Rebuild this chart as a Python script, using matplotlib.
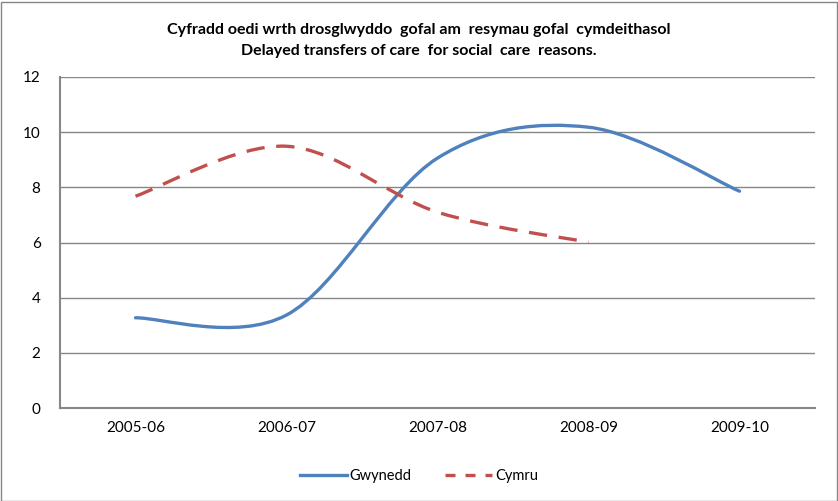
import matplotlib.pyplot as plt
from matplotlib.path import Path
from matplotlib.patches import PathPatch
from matplotlib.lines import Line2D
import numpy as np

plt.rcParams['font.family'] = ['Lato', 'DejaVu Sans']

years = ['2005-06', '2006-07', '2007-08', '2008-09', '2009-10']
gwynedd = [3.27, 3.37, 9.06, 10.18, 7.86]
cymru = [7.68, 9.49, 7.1, 6.01]

blue = '#4F81BD'
red = '#C0504D'


def smooth_path(vals):
    # Excel style smoothed line: cubic bezier through the points
    pts = np.column_stack([np.arange(len(vals)), vals]).astype(float)
    ext = np.vstack([pts[0], pts, pts[-1]])
    verts = [tuple(pts[0])]
    codes = [Path.MOVETO]
    for i in range(len(pts) - 1):
        p0, p1, p2, p3 = ext[i], ext[i + 1], ext[i + 2], ext[i + 3]
        c1 = p1 + (p2 - p0) / 6
        c2 = p2 - (p3 - p1) / 6
        verts += [tuple(c1), tuple(c2), tuple(p2)]
        codes += [Path.CURVE4] * 3
    return Path(verts, codes)


fig = plt.figure(figsize=(8.38, 5.01), dpi=100)
ax = fig.add_axes([60 / 838, 1 - 408 / 501, 755 / 838, 331 / 501])

ax.add_patch(PathPatch(smooth_path(gwynedd), facecolor='none', edgecolor=blue,
                       lw=2.4, capstyle='round', zorder=3))
ax.add_patch(PathPatch(smooth_path(cymru), facecolor='none', edgecolor=red,
                       lw=2.4, linestyle=(0, (5.5, 3.5)), zorder=3))

ax.set_xlim(-0.5, len(years) - 0.5)
ax.set_ylim(0, 12)
ax.set_yticks(range(0, 13, 2))
ax.set_xticks(range(len(years)))
ax.set_xticklabels(years)
ax.tick_params(length=0, labelsize=11, colors='black', pad=9)
ax.tick_params(axis='y', pad=14)
ax.grid(axis='y', color='#878787', lw=1)
ax.set_axisbelow(True)
for s in ['top', 'right']:
    ax.spines[s].set_visible(False)
for s in ['left', 'bottom']:
    ax.spines[s].set_color('#878787')
    ax.spines[s].set_linewidth(1.5)

fig.text(0.5, 1 - 30 / 501, 'Cyfradd oedi wrth drosglwyddo  gofal am  resymau gofal  cymdeithasol',
         ha='center', va='center', fontsize=11.5, fontweight='bold')
fig.text(0.5, 1 - 51 / 501, 'Delayed transfers of care  for social  care  reasons.',
         ha='center', va='center', fontsize=11.5, fontweight='bold')

handles = [Line2D([], [], color=blue, lw=2.4),
           Line2D([], [], color=red, lw=2.4, linestyle=(0, (3, 3)))]
fig.legend(handles, ['Gwynedd', 'Cymru'], loc='center', bbox_to_anchor=(0.5, 1 - 476 / 501),
           ncol=2, frameon=False, fontsize=10.5, handlelength=3.2, columnspacing=2.3,
           handletextpad=0.2)

fig.patches.append(plt.Rectangle((0.5 / 838, 0.5 / 501), 1 - 2 / 838, 1 - 2 / 501,
                                 transform=fig.transFigure, fill=False,
                                 edgecolor='#868686', lw=1))

fig.savefig('out.png', dpi=100)
